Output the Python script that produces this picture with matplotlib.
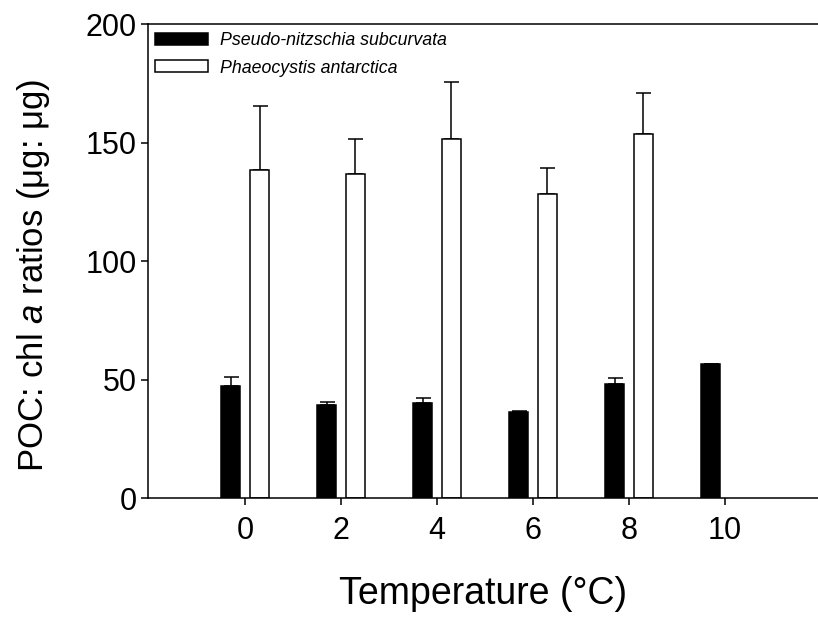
import numpy as np
import matplotlib
matplotlib.use("Agg")
import matplotlib.pyplot as plt

plt.rcParams['font.family'] = ['Liberation Sans', 'DejaVu Sans']
plt.rcParams['mathtext.fontset'] = 'custom'
plt.rcParams['mathtext.rm'] = 'Liberation Sans'
plt.rcParams['mathtext.it'] = 'Liberation Sans:italic'

temps = [0, 2, 4, 6, 8, 10]
pseudo = [47.4, 39.3, 40.3, 36.6, 48.2, 56.8]
pseudo_err = [3.9, 1.3, 1.9, 0.3, 2.4, 0.0]
phaeo = [138.4, 137.0, 151.6, 128.2, 153.9, np.nan]
phaeo_err = [27.1, 14.5, 24.2, 11.0, 17.1, np.nan]

x = np.array(temps, dtype=float)

fig = plt.figure(figsize=(8.18, 6.26), dpi=100)
ax = fig.add_axes([0.1806, 0.204, 0.8194, 0.7572])

ax.bar(x - 0.3, pseudo, width=0.39, color='black', edgecolor='black',
       linewidth=1.1, label='Pseudo-nitzschia subcurvata', zorder=2)
ax.bar(x + 0.3, phaeo, width=0.39, color='white', edgecolor='black',
       linewidth=1.1, label='Phaeocystis antarctica', zorder=2)

# one-sided (upper) error bars
ax.errorbar(x - 0.3, pseudo, yerr=[np.zeros(len(x)), pseudo_err], fmt='none',
            ecolor='black', elinewidth=1.1, capsize=5.4, capthick=1.1, zorder=1)
ax.errorbar(x + 0.3, phaeo, yerr=[np.zeros(len(x)), phaeo_err], fmt='none',
            ecolor='black', elinewidth=1.1, capsize=5.4, capthick=1.1, zorder=1)

ax.set_xlim(-2.03, 11.94)
ax.set_ylim(0, 200)
ax.set_xticks(temps)
ax.set_yticks([0, 50, 100, 150, 200])

for s in ['left', 'bottom', 'top']:
    ax.spines[s].set_linewidth(1.1)
ax.spines['right'].set_visible(False)

ax.tick_params(axis='both', direction='out', length=5, width=1.1, labelsize=22)
ax.tick_params(axis='x', pad=8)
ax.tick_params(axis='y', pad=3)

ax.set_xlabel('Temperature (°C)', fontsize=27, labelpad=21)
ax.set_ylabel(r'POC: chl $\mathit{a}$ ratios (μg: μg)', fontsize=25)
ax.yaxis.set_label_coords(-0.143, 0.47)

leg = ax.legend(loc='upper left', bbox_to_anchor=(0.011, 0.984), frameon=False,
                prop={'style': 'italic', 'size': 12.8}, borderpad=0, borderaxespad=0,
                handlelength=3.0, handleheight=0.68, handletextpad=0.65,
                labelspacing=0.6)

fig.savefig('out.png', dpi=100)
